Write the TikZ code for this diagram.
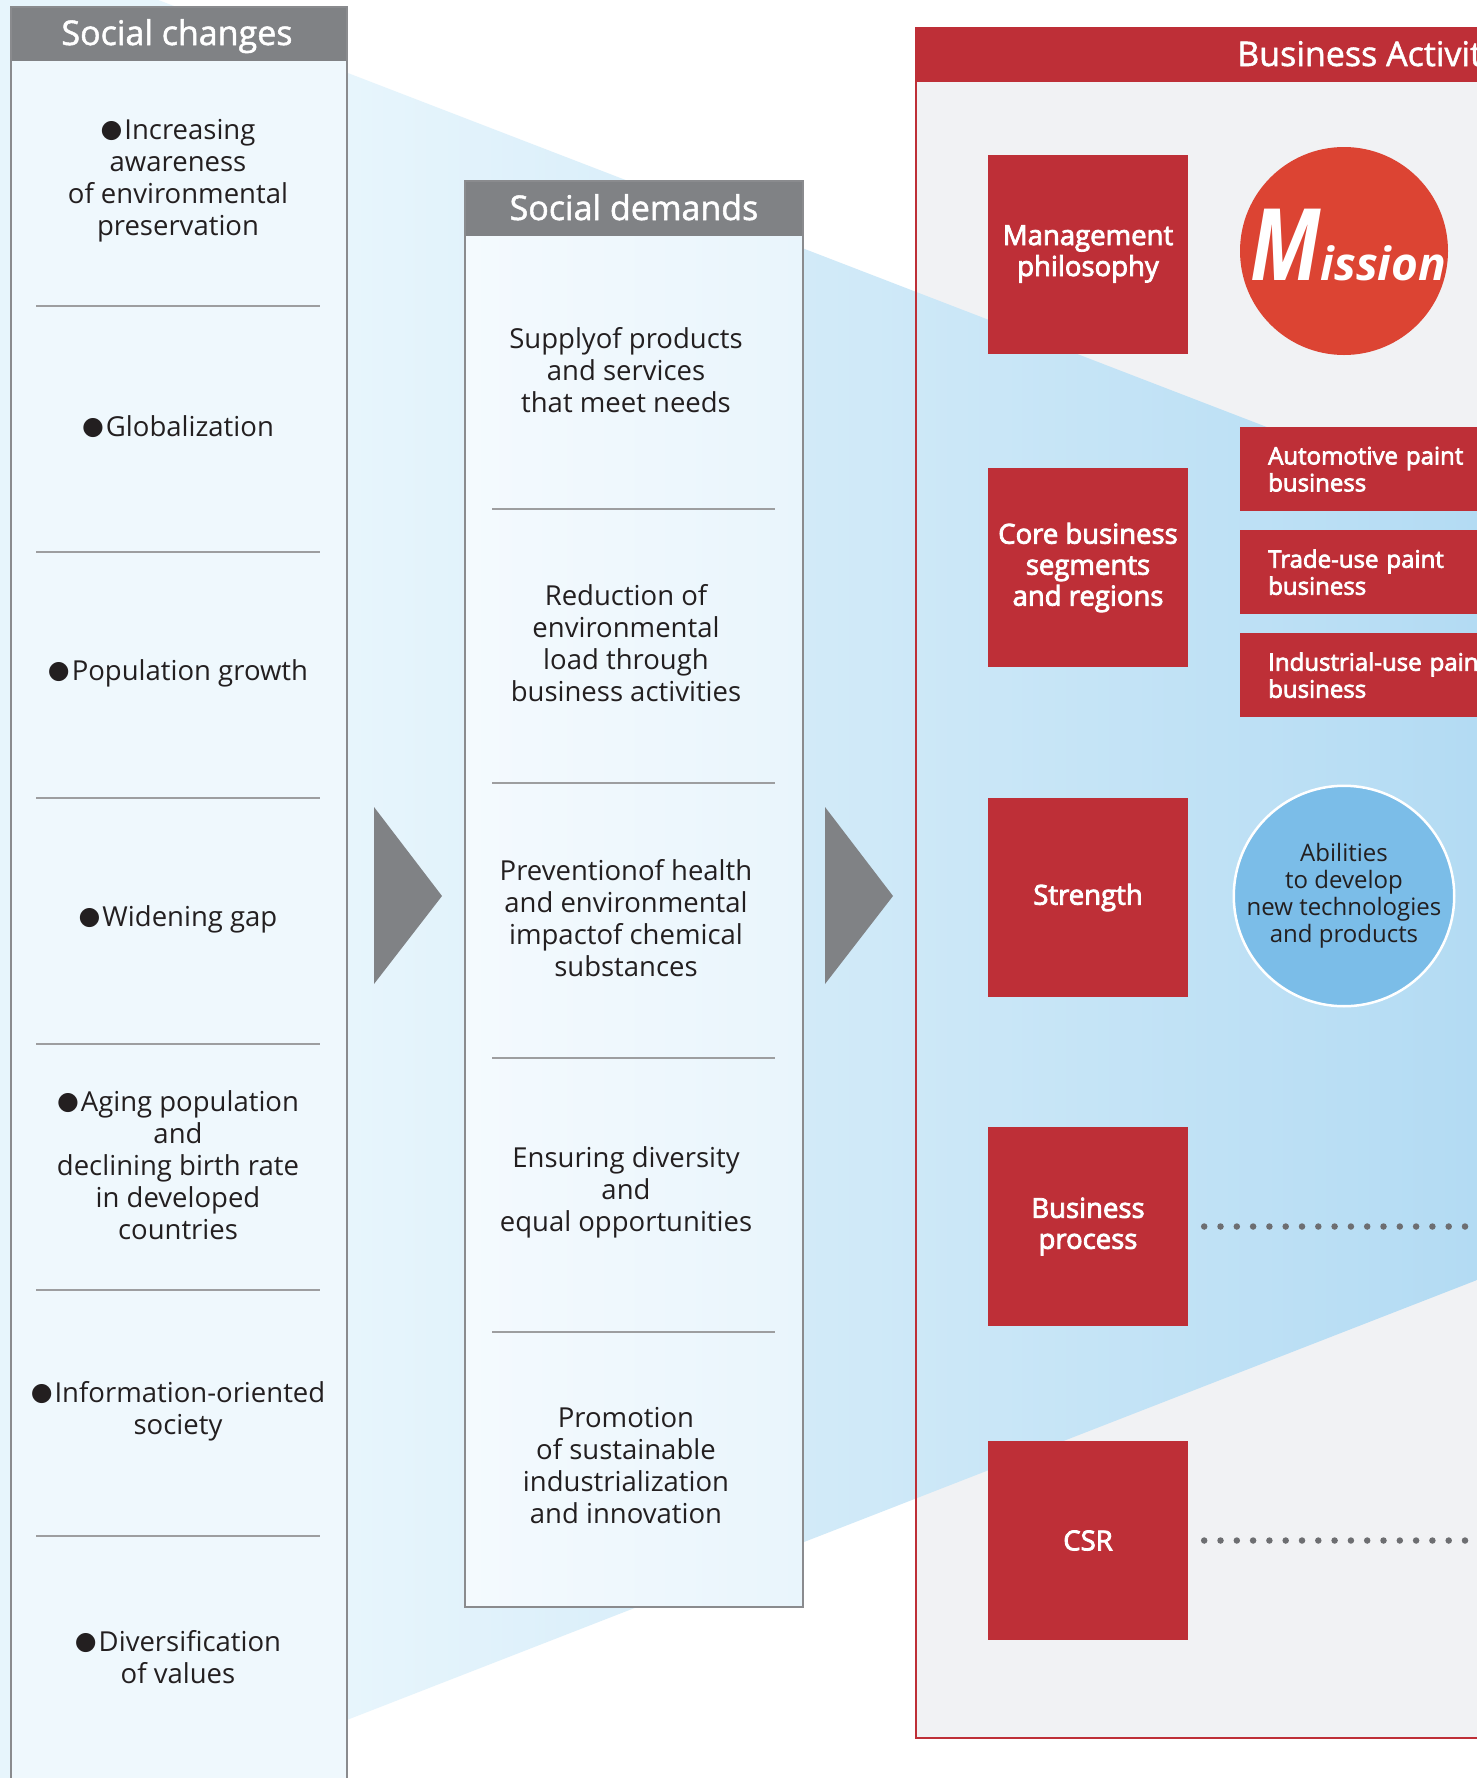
\documentclass[tikz,border=0pt]{standalone}
\usepackage{fontspec}
\setmainfont{Open Sans}
\newfontfamily\dvfont{DejaVu Sans}
\newfontfamily\medfont[FakeBold=3]{Open Sans}
\newfontfamily\hdrfont[FakeBold=1.5]{Open Sans}
\definecolor{hdrgray}{HTML}{808285}
\definecolor{bordgray}{HTML}{8A8B8E}
\definecolor{sepgray}{HTML}{9D9EA0}
\definecolor{nred}{HTML}{BE2F37}
\definecolor{mred}{HTML}{DC4433}
\definecolor{bgray}{HTML}{F1F2F4}
\definecolor{wedgeL}{HTML}{E7F5FC}
\definecolor{wedgeR}{HTML}{B3DBF3}
\definecolor{colL}{HTML}{EFF8FD}
\definecolor{colML}{HTML}{F4FAFE}
\definecolor{colMR}{HTML}{E9F5FC}
\definecolor{abil}{HTML}{7BBDE8}
\definecolor{dotgray}{HTML}{6D6E71}
\definecolor{txt}{HTML}{231F20}
\pgfdeclarehorizontalshading{wedgeshade}{100bp}{color(0bp)=(wedgeL); color(36.85bp)=(wedgeL); color(75bp)=(wedgeR); color(100bp)=(wedgeR)}
\newcommand\bul{\raisebox{2pt}{\dvfont\fontsize{25}{26}\selectfont ●}\hspace{2pt}}
\begin{document}
\begin{tikzpicture}[x=1pt,y=-1pt,
  txtnode/.style={text=txt, align=center, font=\fontsize{27.5}{32}\selectfont, inner sep=0},
  hdrtext/.style={text=white, font=\hdrfont\fontsize{34}{40}\selectfont, inner sep=0},
  redbox/.style={fill=nred, text=white, align=center, minimum width=200, minimum height=199, inner sep=0, font=\medfont\fontsize{27.5}{31}\selectfont},
  bizbox/.style={fill=nred, text=white, align=left, anchor=north west, text width=300, inner xsep=28, inner ysep=0, minimum height=84, font=\medfont\fontsize{24}{27}\selectfont},
  sepline/.style={draw=sepgray, line width=1.5},
  colborder/.style={draw=bordgray, line width=2.5},
  dotline/.style={draw=dotgray, line width=6.5, line cap=round, dash pattern=on 0pt off 16.3pt},
  arrowtri/.style={fill=hdrgray}]
\useasboundingbox (0,0) rectangle (1477,1778);
\fill[white] (0,0) rectangle (1477,1778);
\begin{scope}
\clip (0,0) rectangle (1477,1778);
% business area background
\fill[bgray] (916,28) rectangle (1490,1738);
% funnel wedge
\shade[shading=wedgeshade] (0,-61) -- (1477,508) -- (1477,1280) -- (0,1855) -- cycle;
% columns
\fill[colL] (11,7) rectangle (347,1790);
\shade[left color=colML, right color=colMR] (465,181) rectangle (803,1607);
\fill[hdrgray] (11,7) rectangle (347,61);
\fill[hdrgray] (465,181) rectangle (803,236);
\draw[colborder] (11,1790) -- (11,7) -- (347,7) -- (347,1790);
\draw[colborder] (465,181) rectangle (803,1607);
\foreach \yy in {306,552,798,1044,1290,1536} \draw[sepline] (36,\yy) -- (320,\yy);
\foreach \yy in {509,783,1058,1332} \draw[sepline] (492,\yy) -- (775,\yy);
\node[hdrtext, anchor=base] (lht) at (177,45) {Social changes};
\node[hdrtext, anchor=base] (mht) at (634,220) {Social demands};
% arrows
\fill[arrowtri] (374,807) -- (442,896) -- (374,984) -- cycle;
\fill[arrowtri] (825,807) -- (893,896) -- (825,984) -- cycle;
% business frame
\fill[nred] (916,28) rectangle (1490,82);
\draw[draw=nred, line width=2.5] (1490,28) -- (916,28) -- (916,1738) -- (1490,1738);
\node[hdrtext, anchor=base west] (bht) at (1237,66) {Business Activities};
% left column items
\node[txtnode] (c1) at (178,181) {\bul Increasing\\awareness\\of environmental\\preservation};
\node[txtnode] (c2) at (178,427) {\bul Globalization};
\node[txtnode] (c3) at (178,673) {\bul Population growth};
\node[txtnode] (c4) at (178,919) {\bul Widening gap};
\node[txtnode] (c5) at (178,1165) {\bul Aging population\\and\\declining birth rate\\in developed\\countries};
\node[txtnode] (c6) at (178,1411) {\bul Information-oriented\\society};
\node[txtnode] (c7) at (178,1657) {\bul Diversification\\of values};
% middle column items
\node[txtnode] (d1) at (626,370) {Supplyof products\\and services\\that meet needs};
\node[txtnode] (d2) at (626,643) {Reduction of\\environmental\\load through\\business activities};
\node[txtnode] (d3) at (626,918) {Preventionof health\\and environmental\\impactof chemical\\substances};
\node[txtnode] (d4) at (626,1192) {Ensuring diversity\\and\\equal opportunities};
\node[txtnode] (d5) at (626,1466) {Promotion\\of sustainable\\industrialization\\and innovation};
% red boxes
\node[redbox] (mp) at (1088,254) {Management\\philosophy};
\node[redbox] (cb) at (1088,567.5) {Core business\\segments\\and regions};
\node[redbox] (st) at (1088,897.5) {Strength};
\node[redbox] (bp) at (1088,1226.5) {Business\\process};
\node[redbox] (csr) at (1088,1540.5) {CSR};
% mission
\node[circle, fill=mred, minimum size=208, inner sep=0] (mis) at (1344,251) {};
\node[anchor=base west, text=white, inner sep=0] (mist) at (1250,280) {\bfseries\itshape\fontsize{100}{100}\selectfont\scalebox{0.8}[1]{M}\fontsize{46}{46}\selectfont ission};
% business lines
\node[bizbox] (auto) at (1240,427) {Automotive paint\\business};
\node[bizbox] (trade) at (1240,530) {Trade-use paint\\business};
\node[bizbox] (indus) at (1240,633) {Industrial-use paint\\business};
% abilities circle
\node[circle, fill=abil, draw=white, line width=2.5, minimum size=208, inner sep=0, align=center, text=txt, font=\fontsize{24}{27}\selectfont] (abl) at (1344,896) {Abilities\\to develop\\new technologies\\and products};
% dotted leaders
\coordinate (bpend) at (1490,1226.5);
\coordinate (csrend) at (1490,1540.5);
\draw[dotline] ([xshift=16pt]bp.east) -- (bpend);
\draw[dotline] ([xshift=16pt]csr.east) -- (csrend);
\end{scope}
\end{tikzpicture}
\end{document}
